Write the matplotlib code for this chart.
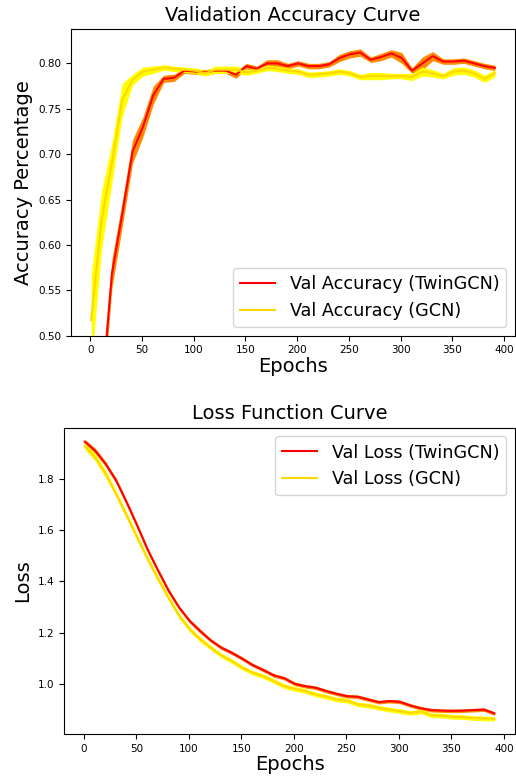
import numpy as np
import matplotlib
matplotlib.use("Agg")
import matplotlib.pyplot as plt

# epochs sampled every 10
epochs = np.arange(1, 400, 10)

# validation accuracy
acc_twin = [0.30, 0.432, 0.568, 0.634, 0.703, 0.730, 0.765, 0.783, 0.784, 0.792,
            0.791, 0.790, 0.792, 0.792, 0.7875, 0.797, 0.794, 0.800, 0.800, 0.797,
            0.800, 0.797, 0.797, 0.799, 0.806, 0.810, 0.812, 0.804, 0.807, 0.811,
            0.806, 0.792, 0.800, 0.808, 0.802, 0.802, 0.803, 0.800, 0.797, 0.795]
acc_twin_std = [0.02, 0.02, 0.016, 0.014, 0.013, 0.011, 0.010, 0.004, 0.004, 0.003,
                0.003, 0.003, 0.003, 0.003, 0.004, 0.003, 0.003, 0.004, 0.004, 0.003,
                0.003, 0.003, 0.003, 0.003, 0.004, 0.004, 0.004, 0.003, 0.004, 0.004,
                0.006, 0.003, 0.007, 0.005, 0.003, 0.003, 0.003, 0.003, 0.003, 0.003]
acc_gcn = [0.517, 0.627, 0.690, 0.760, 0.782, 0.791, 0.793, 0.7955, 0.794, 0.793,
           0.792, 0.789, 0.793, 0.793, 0.793, 0.790, 0.792, 0.795, 0.794, 0.792,
           0.791, 0.7875, 0.788, 0.789, 0.791, 0.789, 0.785, 0.786, 0.786, 0.786,
           0.786, 0.785, 0.791, 0.789, 0.786, 0.791, 0.792, 0.789, 0.783, 0.789]
acc_gcn_std = [0.05, 0.032, 0.022, 0.018, 0.006, 0.005, 0.004, 0.003, 0.003, 0.003,
               0.003, 0.003, 0.004, 0.004, 0.004, 0.003, 0.003, 0.003, 0.003, 0.003,
               0.003, 0.003, 0.003, 0.003, 0.003, 0.003, 0.003, 0.004, 0.004, 0.003,
               0.003, 0.004, 0.005, 0.004, 0.003, 0.004, 0.004, 0.004, 0.004, 0.004]

# validation loss
loss_twin = [1.943, 1.908, 1.856, 1.791, 1.706, 1.616, 1.522, 1.440, 1.362, 1.297,
             1.245, 1.206, 1.170, 1.142, 1.122, 1.099, 1.074, 1.055, 1.034, 1.023,
             1.001, 0.992, 0.986, 0.973, 0.962, 0.953, 0.951, 0.940, 0.930, 0.934,
             0.931, 0.917, 0.906, 0.899, 0.897, 0.896, 0.897, 0.899, 0.901, 0.886]
loss_twin_std = [0.010, 0.010, 0.010, 0.010, 0.010, 0.010, 0.009, 0.009, 0.009, 0.008,
                 0.008, 0.008, 0.007, 0.007, 0.007, 0.007, 0.007, 0.007, 0.007, 0.007,
                 0.007, 0.007, 0.007, 0.007, 0.007, 0.007, 0.007, 0.007, 0.007, 0.007,
                 0.007, 0.007, 0.007, 0.007, 0.007, 0.007, 0.007, 0.007, 0.007, 0.007]
loss_gcn = [1.927, 1.882, 1.817, 1.739, 1.655, 1.570, 1.486, 1.408, 1.334, 1.265,
            1.213, 1.174, 1.142, 1.112, 1.090, 1.064, 1.044, 1.031, 1.012, 0.992,
            0.982, 0.973, 0.960, 0.951, 0.940, 0.936, 0.921, 0.917, 0.908, 0.901,
            0.895, 0.888, 0.894, 0.879, 0.878, 0.873, 0.872, 0.868, 0.867, 0.865]
loss_gcn_std = [0.014, 0.014, 0.014, 0.013, 0.013, 0.013, 0.012, 0.012, 0.011, 0.011,
                0.010, 0.010, 0.009, 0.009, 0.009, 0.009, 0.009, 0.009, 0.009, 0.009,
                0.009, 0.009, 0.009, 0.009, 0.009, 0.009, 0.009, 0.009, 0.009, 0.009,
                0.009, 0.009, 0.009, 0.009, 0.009, 0.009, 0.009, 0.009, 0.009, 0.009]


def band_plot(ax, x, y, std, line_color, band_color, label):
    y = np.asarray(y)
    std = np.asarray(std)
    ax.fill_between(x, y - std, y + std, color=band_color, linewidth=0)
    ax.plot(x, y, color=line_color, linewidth=1.5, label=label)


fig = plt.figure(figsize=(5.16, 7.8), dpi=100)

# --- accuracy ---
ax1 = fig.add_axes([0.1376, 0.5696, 0.8605, 0.3928])
band_plot(ax1, epochs, acc_twin, acc_twin_std, "red", "darkorange", "Val Accuracy (TwinGCN)")
band_plot(ax1, epochs, acc_gcn, acc_gcn_std, "gold", "yellow", "Val Accuracy (GCN)")
ax1.set_ylim(0.5, 0.8375)
ax1.set_xlim(-18.5, 410.5)
ax1.set_title("Validation Accuracy Curve", fontsize=14)
ax1.set_xlabel("Epochs", fontsize=14, labelpad=1)
ax1.set_ylabel("Accuracy Percentage", fontsize=14)
ax1.tick_params(labelsize=7.5)
ax1.legend(loc="lower right", fontsize=12.7)

# --- loss ---
ax2 = fig.add_axes([0.1246, 0.0586, 0.8734, 0.3931])
band_plot(ax2, epochs, loss_twin, loss_twin_std, "red", "darkorange", "Val Loss (TwinGCN)")
band_plot(ax2, epochs, loss_gcn, loss_gcn_std, "gold", "yellow", "Val Loss (GCN)")
ax2.set_ylim(0.805, 1.998)
ax2.set_xlim(-18.5, 410.5)
ax2.set_title("Loss Function Curve", fontsize=14)
ax2.set_xlabel("Epochs", fontsize=14, labelpad=1)
ax2.set_ylabel("Loss", fontsize=14)
ax2.tick_params(labelsize=7.5)
ax2.legend(loc="upper right", fontsize=12.7)

fig.savefig("out.png", dpi=100)
